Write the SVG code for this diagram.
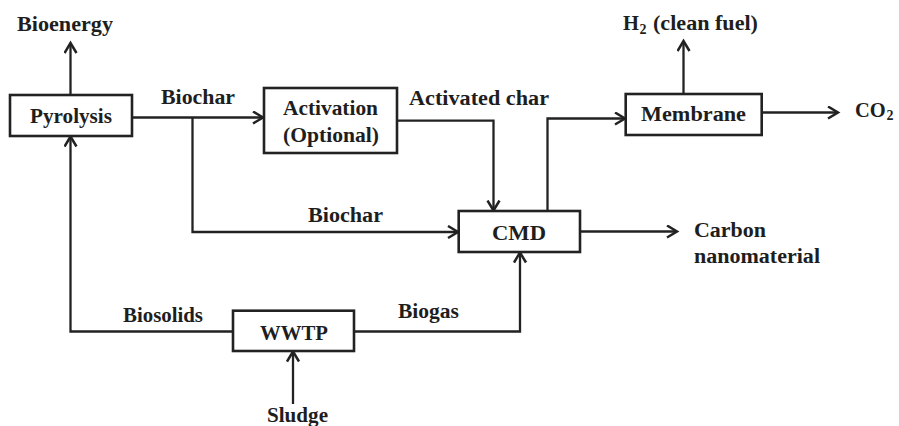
<svg xmlns="http://www.w3.org/2000/svg" width="899" height="426" viewBox="0 0 899 426">
<defs>
<style>
.box{fill:#fff;stroke:#222;stroke-width:2.6}
.ln{fill:none;stroke:#222;stroke-width:2.3}
.arr{marker-end:url(#ah)}
text{font-family:"Liberation Serif","Times New Roman",serif;font-weight:bold;font-size:20.5px;fill:#1e1e1e}
.sub{font-size:14px}
</style>
<marker id="ah" markerUnits="userSpaceOnUse" markerWidth="16" markerHeight="16" refX="11" refY="7" orient="auto">
<path d="M1,1 L11,7 L1,13" fill="none" stroke="#222" stroke-width="2.5"/>
</marker>
</defs>
<rect width="899" height="426" fill="#fff"/>
<g id="connectors">
<path class="ln arr" d="M70.5,95 V43"/>
<path class="ln arr" d="M132,117.5 H263"/>
<path class="ln arr" d="M192.5,117.5 V232 H458"/>
<path class="ln arr" d="M397,120.7 H493.5 V210.5"/>
<path class="ln arr" d="M547.5,211 V118.5 H625"/>
<path class="ln arr" d="M683.5,94 V41"/>
<path class="ln arr" d="M762,112.5 H838"/>
<path class="ln arr" d="M580,231.5 H677"/>
<path class="ln arr" d="M233,331.5 H70.5 V136.5"/>
<path class="ln arr" d="M354,331.5 H520 V252.5"/>
<path class="ln arr" d="M293,404 V351.5"/>
</g>
<g id="pyrolysis">
<rect class="box" x="10" y="95" width="122" height="41"/>
<text x="30" y="123" textLength="82" lengthAdjust="spacingAndGlyphs">Pyrolysis</text>
</g>
<g id="activation">
<rect class="box" x="264" y="88" width="133" height="65"/>
<text x="283" y="115" textLength="95" lengthAdjust="spacingAndGlyphs">Activation</text>
<text x="283" y="141.5" textLength="96" lengthAdjust="spacingAndGlyphs">(Optional)</text>
</g>
<g id="membrane">
<rect class="box" x="625.7" y="94" width="136" height="41"/>
<text x="641" y="121" textLength="105" lengthAdjust="spacingAndGlyphs">Membrane</text>
</g>
<g id="cmd">
<rect class="box" x="458.7" y="211" width="121.3" height="41"/>
<text x="492" y="240" textLength="54" lengthAdjust="spacingAndGlyphs">CMD</text>
</g>
<g id="wwtp">
<rect class="box" x="233" y="310.7" width="121" height="40.3"/>
<text x="260" y="340" textLength="68" lengthAdjust="spacingAndGlyphs">WWTP</text>
</g>
<g id="labels">
<text x="17" y="31" textLength="96" lengthAdjust="spacingAndGlyphs">Bioenergy</text>
<text x="161" y="104" textLength="74" lengthAdjust="spacingAndGlyphs">Biochar</text>
<text x="409" y="105" textLength="140" lengthAdjust="spacingAndGlyphs">Activated char</text>
<text x="623" y="30">H<tspan class="sub" x="639.5" y="33.5">2</tspan><tspan x="653" y="30" textLength="105" lengthAdjust="spacingAndGlyphs">(clean fuel)</tspan></text>
<text x="855" y="116.5">CO<tspan class="sub" x="886.5" y="120">2</tspan></text>
<text x="308" y="222" textLength="75" lengthAdjust="spacingAndGlyphs">Biochar</text>
<text x="694" y="237" textLength="72" lengthAdjust="spacingAndGlyphs">Carbon</text>
<text x="694" y="263" textLength="126" lengthAdjust="spacingAndGlyphs">nanomaterial</text>
<text x="123" y="321.5" textLength="80" lengthAdjust="spacingAndGlyphs">Biosolids</text>
<text x="398" y="318" textLength="61" lengthAdjust="spacingAndGlyphs">Biogas</text>
<text x="267" y="421.5" textLength="61" lengthAdjust="spacingAndGlyphs">Sludge</text>
</g>
</svg>
